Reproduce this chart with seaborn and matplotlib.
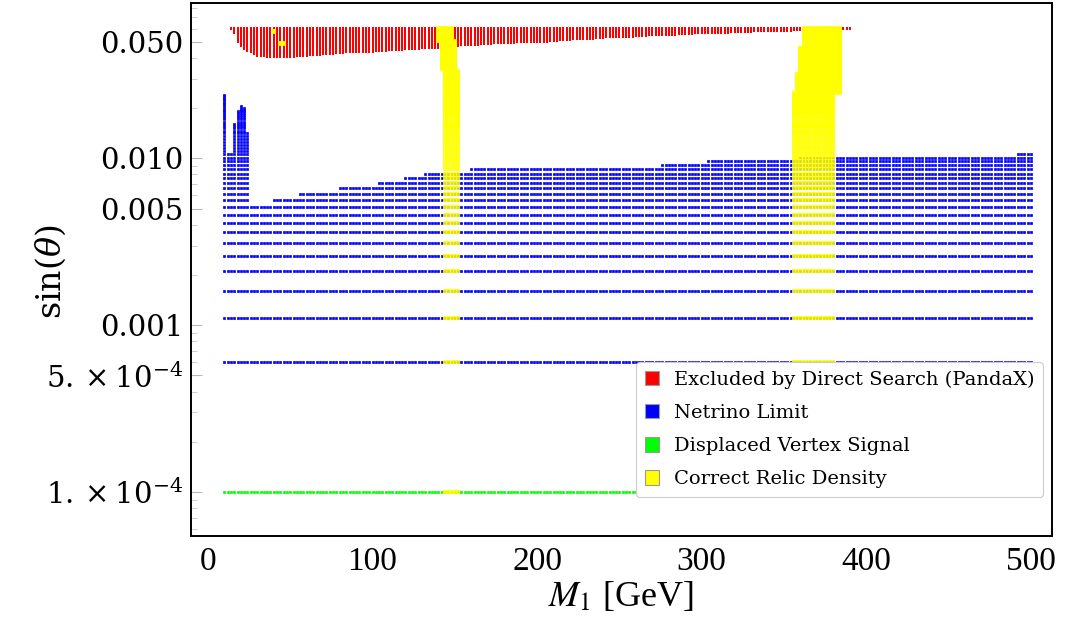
import numpy as np
import pandas as pd
import matplotlib
matplotlib.use("Agg")
import matplotlib.pyplot as plt
import seaborn as sns
from matplotlib.patches import Patch
from matplotlib.ticker import FixedLocator, NullFormatter

sns.set_theme(style="white")
plt.rcParams['font.family'] = ['DejaVu Serif']
plt.rcParams['mathtext.fontset'] = 'dejavuserif'
for k in ("text.color", "axes.labelcolor", "xtick.labelcolor", "ytick.labelcolor"):
    plt.rcParams[k] = "black"

# ---------------- data (parameter scan) ----------------
# scan grid: M1 in GeV, sin(theta)
m1_grid = np.arange(10, 501, 2)
sin_grid = np.round(0.0001 + 0.0005 * np.arange(121), 4)

# Netrino limit (blue): rows up to this value are allowed for all M1
blue_full_max = 0.0051
# higher rows start at a given M1 and run to 500
blue_row_sin = [0.0056, 0.0061, 0.0066, 0.0071, 0.0076, 0.0081, 0.0086,
                0.0091, 0.0096, 0.0101, 0.0106]
blue_row_start = [40, 56, 80, 104, 120, 132, 160, 276, 304, 360, 492]
# low-mass columns and their top sin(theta)
blue_col_m1 = [10, 12, 14, 16, 18, 20, 22, 24]
blue_col_top = [0.0241, 0.0106, 0.0106, 0.0161, 0.0191, 0.0206, 0.0201, 0.0141]

# Displaced vertex (green)
green_sin = 0.0001

# Excluded by PandaX (red): lower boundary vs M1, top of scan
red_knot_m1 = [14, 16, 18, 22, 26, 30, 38, 50, 70, 90, 110, 130, 150, 170,
               200, 240, 280, 320, 360, 390]
red_knot_low = [0.0596, 0.0566, 0.0494, 0.0447, 0.0427, 0.0411, 0.0404,
                0.0404, 0.0417, 0.0430, 0.0442, 0.0452, 0.0468, 0.0485,
                0.0496, 0.0525, 0.0549, 0.0567, 0.0583, 0.0596]
red_top = 0.0601

# Correct relic density (yellow): bands (sin_lo, sin_hi, m1_lo, m1_hi)
yellow_sin_lo = [0.0506, 0.0339, 0.0001, 0.0457, 0.0324, 0.0246, 0.0001]
yellow_sin_hi = [0.0601, 0.0506, 0.0339, 0.0601, 0.0457, 0.0324, 0.0246]
yellow_m1_lo = [140, 142, 144, 362, 360, 358, 356]
yellow_m1_hi = [148, 150, 152, 384, 384, 384, 380]
yellow_extra_m1 = [40, 40, 40, 44, 46, 44, 46]
yellow_extra_sin = [0.0571, 0.0576, 0.0581, 0.0486, 0.0486, 0.0491, 0.0491]

# ---------------- build point sets ----------------
M, S = np.meshgrid(m1_grid, sin_grid)
M = M.ravel(); S = S.ravel()

row_start = dict(zip(blue_row_sin, blue_row_start))
col_top = dict(zip(blue_col_m1, blue_col_top))
blue_mask = np.zeros_like(M, dtype=bool)
for i, (m, s) in enumerate(zip(M, S)):
    if s < 0.0006:
        continue
    if s <= blue_full_max + 1e-9:
        blue_mask[i] = True
    elif m in col_top and s <= col_top[m] + 1e-9:
        blue_mask[i] = True
    elif s in row_start and m >= row_start[s]:
        blue_mask[i] = True

green_mask = np.isclose(S, green_sin)

low = np.interp(M, red_knot_m1, red_knot_low)
red_mask = (M >= red_knot_m1[0]) & (M <= red_knot_m1[-1]) & (S >= low - 1e-9) & (S <= red_top + 1e-9)

yel_mask = np.zeros_like(M, dtype=bool)
for slo, shi, mlo, mhi in zip(yellow_sin_lo, yellow_sin_hi, yellow_m1_lo, yellow_m1_hi):
    yel_mask |= (S >= slo - 1e-9) & (S <= shi + 1e-9) & (M >= mlo) & (M <= mhi)

df_red = pd.DataFrame({"M1": M[red_mask], "sin": S[red_mask]})
df_blue = pd.DataFrame({"M1": M[blue_mask], "sin": S[blue_mask]})
df_green = pd.DataFrame({"M1": M[green_mask], "sin": S[green_mask]})
df_yel = pd.DataFrame({"M1": np.concatenate([M[yel_mask], yellow_extra_m1]),
                       "sin": np.concatenate([S[yel_mask], yellow_extra_sin])})

# ---------------- plot ----------------
W, H = 1072, 634
fig = plt.figure(figsize=(W / 100, H / 100), dpi=100)
L, R, T, B = 190.5, 1052, 2.7, 535.5
ax = fig.add_axes([L / W, 1 - B / H, (R - L) / W, (B - T) / H])

sns.scatterplot(data=df_red, x="M1", y="sin", ax=ax, color="#ff0000", marker="s",
                s=3.4, linewidth=0, legend=False)
sns.scatterplot(data=df_blue, x="M1", y="sin", ax=ax, color="#0000ff", marker="s",
                s=3.8, linewidth=0, legend=False, snap=False)
sns.scatterplot(data=df_green, x="M1", y="sin", ax=ax, color="#00ff00", marker="s",
                s=3.8, linewidth=0, legend=False, snap=False)
sns.scatterplot(data=df_yel, x="M1", y="sin", ax=ax, color="#ffff00", marker="s",
                s=10, linewidth=0, alpha=0.85, legend=False)

ax.set_yscale("log")
ax.set_xlim(-10.6, 512.8)
ax.set_ylim(5.48e-5, 0.0857)

# ticks
ax.set_xticks([0, 100, 200, 300, 400, 500])
ax.set_xticklabels(["0", "100", "200", "300", "400", "500"],
                   family="Liberation Serif", fontsize=24)
ax.tick_params(axis="x", length=0, pad=8)

ymaj = [1e-4, 5e-4, 1e-3, 5e-3, 1e-2, 5e-2]
ylab = [r"$1.\times10^{-4}$", r"$5.\times10^{-4}$", "0.001", "0.005", "0.010", "0.050"]
ax.yaxis.set_major_locator(FixedLocator(ymaj))
ax.set_yticklabels(ylab, fontsize=21)
minors = [v * 10.0 ** e for e in (-5, -4, -3, -2) for v in (2, 3, 4, 6, 7, 8, 9)]
minors = [v for v in minors if 5.48e-5 < v < 0.0857 and not any(np.isclose(v, ymaj))]
ax.yaxis.set_minor_locator(FixedLocator(minors))
ax.yaxis.set_minor_formatter(NullFormatter())
ax.tick_params(axis="y", which="major", direction="in", length=8, width=0.8,
               color="#b8b8b8", left=True, pad=5)
ax.tick_params(axis="y", which="minor", direction="in", length=4, width=0.6,
               color="#c8c8c8", left=True)

for sp in ax.spines.values():
    sp.set_color("black")
    sp.set_linewidth(1.4)

ax.set_xlabel(r"$M_1$ [GeV]", family="Liberation Serif", fontsize=26, math_fontfamily="stix")
ax.xaxis.set_label_coords(0.5, -0.083)
ax.xaxis.label.set_va("top")
ax.set_ylabel(r"sin($\theta$)", fontsize=24)
ax.yaxis.set_label_coords(-0.142, 0.495)

handles = [Patch(facecolor="#ff0000", edgecolor="#9a9a9a", linewidth=0.8,
                 label="Excluded by Direct Search (PandaX)"),
           Patch(facecolor="#0000ff", edgecolor="#9a9a9a", linewidth=0.8,
                 label="Netrino Limit"),
           Patch(facecolor="#00ff00", edgecolor="#9a9a9a", linewidth=0.8,
                 label="Displaced Vertex Signal"),
           Patch(facecolor="#ffff00", edgecolor="#9a9a9a", linewidth=0.8,
                 label="Correct Relic Density")]
leg = ax.legend(handles=handles, loc="lower right", bbox_to_anchor=(0.9895, 0.072),
                fontsize=14, frameon=True, fancybox=True, framealpha=1,
                edgecolor="#cccccc", handlelength=0.75, handleheight=0.75,
                handletextpad=0.75, labelspacing=0.78, borderpad=0.45,
                borderaxespad=0)
leg.get_frame().set_linewidth(0.8)

fig.savefig("out.png", dpi=100)
